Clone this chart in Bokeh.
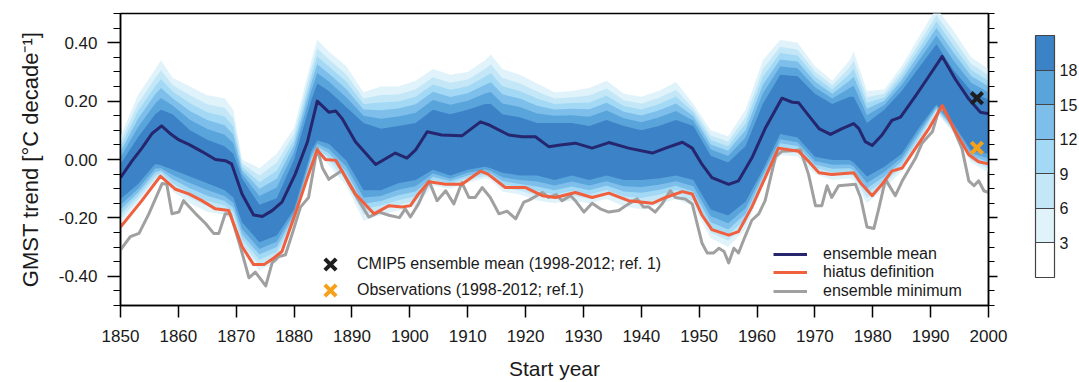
from bokeh.plotting import figure
from bokeh.models import (FixedTicker, NumeralTickFormatter, LinearAxis, Legend, LegendItem,
                          ColorBar, LinearColorMapper, CustomJSTickFormatter, Range1d)
from bokeh.embed import file_html
from bokeh.resources import INLINE

FONT = "Liberation Sans"

# ---------------- data ----------------
mean_years = [1850, 1852, 1853.7, 1855.5, 1857.1, 1858.5, 1860.1, 1861.8, 1864, 1866.4, 1868.1, 1869.2,
              1871, 1873, 1874.5, 1876.2, 1877.9, 1880.2, 1882.3, 1884, 1886, 1887.2, 1888.3, 1890.6,
              1894.1, 1897.5, 1899.5, 1901, 1903, 1905.5, 1909, 1912.2, 1913.5, 1917.1, 1919.4, 1921.7,
              1924, 1926, 1928.6, 1931.5, 1934.4, 1937.8, 1941.9, 1944.2, 1947.1, 1948.8, 1950.5, 1952.2,
              1955.1, 1956.8, 1959.1, 1961.4, 1964.3, 1966.1, 1967.2, 1968.9, 1970.7, 1972.7, 1974.7,
              1976.7, 1977.6, 1978.7, 1979.9, 1981.6, 1983.3, 1984.8, 1987.4, 1989.7, 1992, 1994.3,
              1996.6, 1998.6, 2000]
mean_vals = [-0.062, -0.005, 0.039, 0.09, 0.115, 0.09, 0.067, 0.052, 0.028, 0.0, -0.004, -0.015,
             -0.118, -0.19, -0.195, -0.175, -0.146, -0.05, 0.06, 0.20, 0.162, 0.166, 0.14, 0.061,
             -0.017, 0.022, 0.005, 0.033, 0.095, 0.084, 0.081, 0.129, 0.12, 0.084, 0.078, 0.078,
             0.044, 0.05, 0.056, 0.039, 0.058, 0.039, 0.022, 0.039, 0.059, 0.039, -0.017, -0.062,
             -0.085, -0.073, 0.005, 0.106, 0.21, 0.196, 0.194, 0.151, 0.106, 0.086, 0.106,
             0.123, 0.106, 0.061, 0.048, 0.084, 0.134, 0.145, 0.218, 0.285, 0.353, 0.274,
             0.207, 0.162, 0.157]

hiatus_years = [1850, 1853.7, 1856.9, 1859.5, 1861.8, 1864, 1866.4, 1868.7, 1871, 1873, 1874.8, 1876.5,
                1877.9, 1880.2, 1882.3, 1884, 1885.4, 1887.2, 1888.3, 1890.6, 1893.8, 1896.4, 1898.7,
                1900.1, 1901.5, 1903.3, 1906.2, 1909, 1912.2, 1913.5, 1916.5, 1920, 1922.9, 1925.2,
                1928.6, 1931.5, 1934.4, 1937.8, 1941.9, 1944.2, 1947.1, 1948.8, 1950.5, 1952.2, 1955.1,
                1956.8, 1959.1, 1961.4, 1963.7, 1967.2, 1968.9, 1970.7, 1972.9, 1976.7, 1978.1, 1979.9,
                1981.6, 1983.3, 1985.1, 1987.4, 1989.7, 1992, 1994.3, 1996.6, 1998.3, 2000]
hiatus_vals = [-0.231, -0.141, -0.057, -0.102, -0.118, -0.14, -0.169, -0.175, -0.298, -0.36, -0.36, -0.337,
               -0.315, -0.186, -0.062, 0.033, 0.0, -0.003, -0.04, -0.118, -0.186, -0.158, -0.163,
               -0.158, -0.118, -0.076, -0.085, -0.085, -0.04, -0.05, -0.096, -0.096, -0.124, -0.13,
               -0.113, -0.13, -0.115, -0.141, -0.15, -0.13, -0.11, -0.118, -0.191, -0.24, -0.259,
               -0.247, -0.163, -0.062, 0.039, 0.028, -0.006, -0.045, -0.051, -0.045, -0.085, -0.124,
               -0.085, -0.04, -0.029, 0.039, 0.106, 0.185, 0.095, 0.016, -0.008, -0.015]

min_years = [1850, 1851.7, 1853.2, 1854.9, 1857.2, 1858, 1858.9, 1860.1, 1860.9, 1863, 1864.7, 1866.1,
             1867, 1868.1, 1869, 1870.7, 1872.2, 1873.3, 1875.1, 1876.2, 1877.4, 1878.5, 1879.7, 1881.1,
             1882.5, 1884, 1884.9, 1886, 1887.7, 1888.3, 1889.5, 1891.2, 1892.9, 1894.7, 1896.4, 1898.2,
             1899.2, 1900.1, 1901.5, 1903.3, 1904.7, 1906.2, 1907.6, 1909, 1910.2, 1911.3, 1912.5,
             1913.9, 1915.4, 1916.8, 1918.3, 1919.7, 1920.6, 1922.9, 1924, 1925.3, 1926.3, 1927.8,
             1928.6, 1930.1, 1931.5, 1932.9, 1934.4, 1936.1, 1937.8, 1939.3, 1940.4, 1941.3, 1942.4,
             1943.6, 1945, 1945.9, 1947.6, 1948.8, 1950.5, 1951.4, 1952.5, 1953.4, 1954.3, 1955.1,
             1956, 1956.8, 1957.7, 1959.1, 1960.3, 1961.4, 1963.2, 1964.3, 1966.1, 1967.5, 1968.9,
             1970.1, 1971.2, 1972.1, 1972.9, 1974.1, 1977, 1977.9, 1979, 1980.2, 1981.1, 1982.2,
             1983.9, 1985.1, 1987.4, 1988.5, 1990.3, 1991.4, 1992.3, 1993.7, 1995.4, 1996.6, 1997.5,
             1998.3, 1999.2, 2000]
min_vals = [-0.309, -0.264, -0.253, -0.186, -0.082, -0.085, -0.186, -0.18, -0.141, -0.186, -0.219, -0.253,
            -0.253, -0.186, -0.186, -0.298, -0.405, -0.386, -0.433, -0.354, -0.332, -0.326, -0.253, -0.163,
            -0.13, 0.039, -0.029, -0.068, -0.045, -0.038, -0.085, -0.141, -0.197, -0.18, -0.191, -0.199,
            -0.169, -0.197, -0.152, -0.073, -0.141, -0.107, -0.152, -0.079, -0.13, -0.13, -0.096,
            -0.13, -0.186, -0.177, -0.203, -0.146, -0.139, -0.113, -0.13, -0.12, -0.141, -0.124,
            -0.141, -0.18, -0.15, -0.169, -0.18, -0.175, -0.152, -0.135, -0.163, -0.163, -0.18,
            -0.152, -0.107, -0.13, -0.135, -0.152, -0.287, -0.32, -0.32, -0.304, -0.315, -0.354,
            -0.304, -0.32, -0.275, -0.208, -0.186, -0.141, 0.01, 0.028, 0.03, 0.033, -0.051,
            -0.158, -0.158, -0.09, -0.13, -0.09, -0.085, -0.13, -0.231, -0.236, -0.163, -0.068,
            -0.124, -0.073, 0.005, 0.056, 0.095, 0.168, 0.173, 0.117, 0.039, -0.073, -0.09,
            -0.073, -0.107, -0.113]

# ensemble-density contour envelopes (outer >=3 members, inner core >=18 members)
band_years = [1850, 1853, 1856, 1857, 1859, 1862, 1865, 1868, 1869.5, 1871, 1874, 1877, 1880, 1883,
              1884, 1886, 1889, 1892, 1895, 1898, 1901, 1904, 1907, 1910, 1913, 1914, 1916, 1919,
              1922, 1925, 1928, 1931, 1934, 1937, 1940, 1943, 1946, 1949, 1952, 1955, 1958, 1961,
              1964, 1967, 1970, 1973, 1976, 1976.7, 1979, 1982, 1985, 1988, 1991, 1994, 1997, 2000]
band_top = [0.08, 0.22, 0.31, 0.34, 0.28, 0.25, 0.22, 0.21, 0.17, 0.0, -0.03, 0.02, 0.11, 0.34,
            0.41, 0.37, 0.32, 0.23, 0.25, 0.25, 0.27, 0.31, 0.29, 0.30, 0.34, 0.36, 0.31, 0.29,
            0.26, 0.23, 0.235, 0.245, 0.27, 0.225, 0.215, 0.235, 0.265, 0.19, 0.10, 0.08, 0.17, 0.34,
            0.41, 0.40, 0.32, 0.27, 0.34, 0.37, 0.235, 0.24, 0.32, 0.42, 0.52, 0.44, 0.35, 0.31]
band_bottom = [-0.22, -0.15, -0.08, -0.06, -0.11, -0.15, -0.18, -0.19, -0.21, -0.31, -0.38, -0.35, -0.22,
               -0.03, 0.02, -0.02, -0.09, -0.21, -0.19, -0.175, -0.16, -0.09, -0.10, -0.08, -0.065,
               -0.07, -0.11, -0.12, -0.14, -0.15, -0.14, -0.15, -0.135, -0.16, -0.17, -0.155, -0.135,
               -0.16, -0.27, -0.30, -0.24, -0.09, 0.015, 0.01, -0.05, -0.07, -0.065, -0.07, -0.15,
               -0.10, -0.04, 0.05, 0.16, 0.09, -0.01, -0.045]
core_top = [-0.015, 0.075, 0.155, 0.17, 0.155, 0.10, 0.068, 0.045, 0.02, -0.065, -0.155, -0.133, 0.0,
            0.205, 0.26, 0.235, 0.18, 0.125, 0.105, 0.115, 0.125, 0.17, 0.155, 0.17, 0.19, 0.19, 0.155,
            0.145, 0.125, 0.125, 0.125, 0.115, 0.135, 0.115, 0.10, 0.115, 0.135, 0.115, 0.013, -0.01,
            0.045, 0.19, 0.29, 0.285, 0.225, 0.19, 0.215, 0.215, 0.125, 0.17, 0.235, 0.315, 0.395,
            0.305, 0.235, 0.205]
core_bottom = [-0.135, -0.085, -0.015, -0.02, -0.035, -0.058, -0.081, -0.105, -0.13, -0.215, -0.283,
               -0.26, -0.171, 0.031, 0.065, 0.054, -0.003, -0.105, -0.105, -0.081, -0.07, -0.035,
               -0.055, -0.035, -0.025, -0.03, -0.045, -0.055, -0.055, -0.07, -0.055, -0.07, -0.055,
               -0.07, -0.07, -0.065, -0.055, -0.07, -0.171, -0.192, -0.145, -0.035, 0.087, 0.075,
               0.009, -0.002, -0.002, -0.01, -0.058, -0.025, 0.02, 0.11, 0.188, 0.121, 0.031, 0.02]
level_position = [0.0, 0.2, 0.38, 0.56, 0.76, 1.0]   # contour level between outer envelope and core
level_colors = ["#e0f3fb", "#c4e7f8", "#a3d9f4", "#7dbfea", "#5aa4dc", "#3c82c7"]
cbar_bounds = [3, 6, 9, 12, 15, 18]

cmip5_year, cmip5_trend = [1998], [0.21]
obs_year, obs_trend = [1998], [0.04]

x_ticks = list(range(1850, 2001, 10))
y_ticks = [-0.4, -0.2, 0.0, 0.2, 0.4]
y_minor = [round(-0.5 + 0.05 * i, 2) for i in range(21)]

# ---------------- figure ----------------
p = figure(width=1079, height=382, output_backend="svg", toolbar_location=None,
           x_range=Range1d(1850, 2000), y_range=Range1d(-0.5, 0.5),
           min_border_left=120, min_border_right=91, min_border_top=13, min_border_bottom=72)
p.xgrid.visible = False
p.ygrid.visible = False
p.outline_line_color = "black"
p.outline_line_width = 1.5
p.background_fill_color = "white"
p.border_fill_color = "white"

for k, t in enumerate(level_position):
    top = [a + t * (b - a) for a, b in zip(band_top, core_top)]
    bot = [a + t * (b - a) for a, b in zip(band_bottom, core_bottom)]
    p.varea(x=band_years, y1=bot, y2=top, fill_color=level_colors[k], fill_alpha=1.0)

r_min = p.line(min_years, min_vals, line_color="#a0a0a0", line_width=3, line_join="round")
r_hia = p.line(hiatus_years, hiatus_vals, line_color="#f0603f", line_width=3, line_join="round")
r_mean = p.line(mean_years, mean_vals, line_color="#26266e", line_width=3, line_join="round")

r_cm = p.scatter(cmip5_year, cmip5_trend, marker="x", size=16, line_width=4, line_color="#1e1e1e")
r_ob = p.scatter(obs_year, obs_trend, marker="x", size=16, line_width=4, line_color="#f7a11a")

# axes
xa = p.xaxis[0]
xa.ticker = FixedTicker(ticks=x_ticks)
xa.axis_label = "Start year"
ya = p.yaxis[0]
ya.ticker = FixedTicker(ticks=y_ticks, minor_ticks=y_minor)
ya.formatter = NumeralTickFormatter(format="0.00")
ya.axis_label = "GMST trend [°C decade⁻¹]"

ra = LinearAxis(ticker=FixedTicker(ticks=y_ticks, minor_ticks=y_minor),
                formatter=CustomJSTickFormatter(code="return ''"))
p.add_layout(ra, "right")

for ax in (xa, ya, ra):
    ax.axis_line_width = 1.5
    ax.axis_line_color = "black"
    ax.major_tick_line_width = 1.5
    ax.minor_tick_line_width = 1.2
    ax.major_tick_in = 0
    ax.minor_tick_in = 0
    ax.major_label_text_font = FONT
    ax.major_label_text_font_size = "17px"
    ax.major_label_text_color = "#1a1a1a"
    ax.axis_label_text_font = FONT
    ax.axis_label_text_font_size = "21px"
    ax.axis_label_text_font_style = "normal"
    ax.axis_label_text_color = "#1a1a1a"
ya.axis_label_text_font_size = "22px"
xa.major_tick_out = 12
xa.minor_tick_line_color = None
xa.major_label_standoff = 12
xa.axis_label_standoff = 12
ya.major_tick_out = 13
ya.minor_tick_out = 7
ya.major_label_standoff = 10
ya.axis_label_standoff = 13
ra.major_tick_out = 9
ra.minor_tick_out = 6
ra.major_label_standoff = 0

# legends (one per row so that each row sits where the reference has it)
common = dict(orientation="vertical", padding=0, margin=0, border_line_color=None,
              background_fill_alpha=0, label_text_font=FONT, label_text_font_size="16px",
              label_text_color="#1a1a1a")
legends = [
    Legend(items=[LegendItem(label="CMIP5 ensemble mean (1998-2012; ref. 1)", renderers=[r_cm])],
           location=(190, 21), glyph_width=40, glyph_height=40, label_height=20,
           label_standoff=7, **common),
    Legend(items=[LegendItem(label="Observations (1998-2012; ref.1)", renderers=[r_ob])],
           location=(190, -5), glyph_width=40, glyph_height=40, label_height=20,
           label_standoff=7, **common),
    Legend(items=[LegendItem(label="ensemble mean", renderers=[r_mean])],
           location=(653, 41), glyph_width=34, glyph_height=20, label_height=20,
           label_standoff=16, **common),
    Legend(items=[LegendItem(label="hiatus definition", renderers=[r_hia])],
           location=(653, 23), glyph_width=34, glyph_height=20, label_height=20,
           label_standoff=16, **common),
    Legend(items=[LegendItem(label="ensemble minimum", renderers=[r_min])],
           location=(653, 4), glyph_width=34, glyph_height=20, label_height=20,
           label_standoff=16, **common),
]
for lg in legends:
    p.add_layout(lg, "center")

# colour bar
mapper = LinearColorMapper(palette=["#ffffff"] + level_colors, low=0, high=21)
cb = ColorBar(color_mapper=mapper, ticker=FixedTicker(ticks=cbar_bounds),
              location=(915, 28), width=19, height=242, padding=0, margin=0,
              bar_line_color="#444444", bar_line_width=1.2,
              major_tick_line_color="#444444", major_tick_line_width=1.2,
              major_tick_in=19, major_tick_out=0, minor_tick_line_color=None,
              label_standoff=5, major_label_text_font=FONT, major_label_text_font_size="16px",
              major_label_text_color="#1a1a1a", background_fill_alpha=0, border_line_color=None)
p.add_layout(cb, "center")

open("out.html", "w").write(file_html(p, INLINE))
